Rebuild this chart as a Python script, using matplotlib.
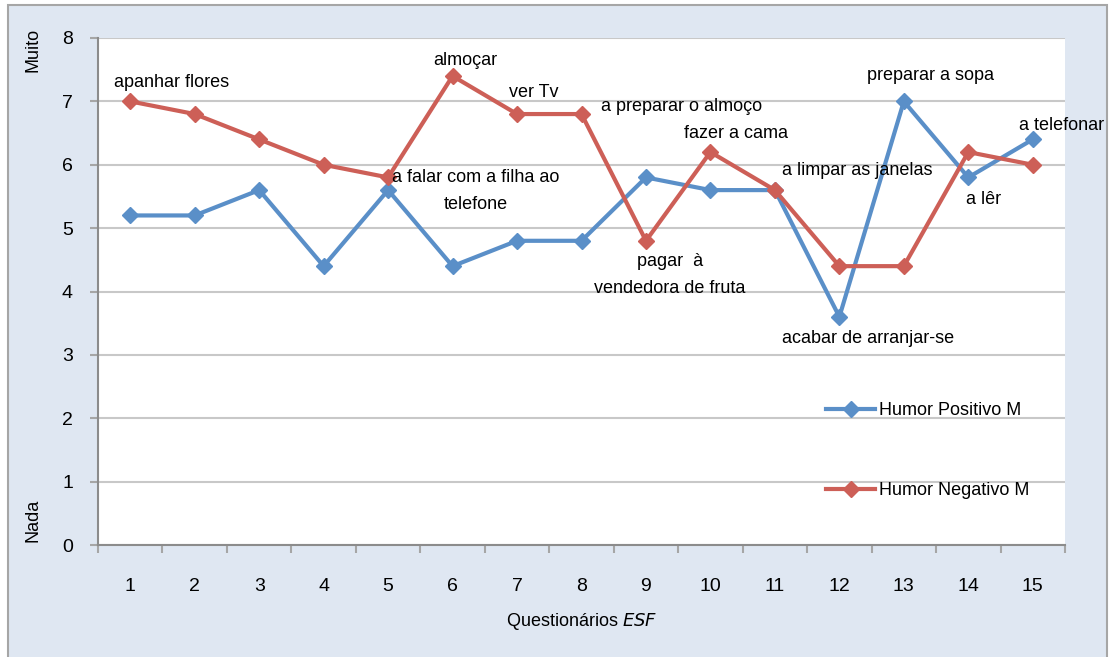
import matplotlib.pyplot as plt
from matplotlib.patches import Rectangle

plt.rcParams['font.family'] = ['Liberation Sans', 'DejaVu Sans']

# Médias por questionário
questionarios = list(range(1, 16))
humor_positivo = [5.2, 5.2, 5.6, 4.4, 5.6, 4.4, 4.8, 4.8, 5.8, 5.6, 5.6, 3.6, 7.0, 5.8, 6.4]
humor_negativo = [7.0, 6.8, 6.4, 6.0, 5.8, 7.4, 6.8, 6.8, 4.8, 6.2, 5.6, 4.4, 4.4, 6.2, 6.0]

# Actividades: (questionário, série, texto, deslocamento em px)
actividades = [
    (1, 'neg', 'apanhar flores', (41, 19)),
    (6, 'neg', 'almoçar', (13, 16)),
    (7, 'neg', 'ver Tv', (17, 22)),
    (8, 'neg', 'a preparar o almoço', (100, 8)),
    (10, 'neg', 'fazer a cama', (26, 19)),
    (5, 'pos', 'a falar com a filha ao\ntelefone', (88, -1)),
    (9, 'neg', 'pagar  à\nvendedora de fruta', (24, -34)),
    (11, 'neg', 'a limpar as janelas', (82, 20)),
    (13, 'pos', 'preparar a sopa', (27, 26)),
    (15, 'pos', 'a telefonar', (29, 14)),
    (14, 'pos', 'a lêr', (15, -22)),
    (12, 'pos', 'acabar de arranjar-se', (29, -22)),
]

azul = '#5a8fc8'
vermelho = '#cd5f57'
fs = 13

fig = plt.figure(figsize=(11.1, 6.57), dpi=100)
fig.patch.set_facecolor('white')
W, H = 1110, 657
fundo = Rectangle((8 / W, -0.05), 1099 / W, 1.05 - 5 / H,
                  transform=fig.transFigure, facecolor='#dfe7f2',
                  edgecolor='#a6a6a6', linewidth=1.5, zorder=-10)
fig.patches.append(fundo)

ax = fig.add_axes([98 / W, 112 / H, 967 / W, 507 / H])
ax.set_zorder(1)
ax.set_facecolor('white')

ax.plot(questionarios, humor_positivo, color=azul, lw=3, marker='D', ms=8.5,
        label='Humor Positivo M', zorder=3)
ax.plot(questionarios, humor_negativo, color=vermelho, lw=3, marker='D', ms=8.5,
        label='Humor Negativo M', zorder=3)

for q, serie, texto, (dx, dy) in actividades:
    y = humor_positivo[q - 1] if serie == 'pos' else humor_negativo[q - 1]
    ax.annotate(texto, (q, y), xytext=(dx, dy), textcoords='offset pixels',
                ha='center', va='center', fontsize=fs, color='black',
                linespacing=1.75, zorder=4, annotation_clip=False)

ax.set_xlim(0.5, 15.5)
ax.set_ylim(0, 8)
ax.set_yticks(range(0, 9))
ax.set_xticks(questionarios)
ax.set_xticks([i + 0.5 for i in range(0, 16)], minor=True)
ax.tick_params(axis='x', which='major', length=0, pad=24, labelsize=14)
ax.tick_params(axis='x', which='minor', length=6, width=1.5, color='#a6a6a6')
ax.tick_params(axis='y', length=6, width=1.5, color='#a6a6a6', labelsize=14, pad=12)
ax.grid(axis='y', color='#c8c8c8', lw=1.5)
ax.set_axisbelow(True)
for s in ['top', 'right']:
    ax.spines[s].set_visible(False)
for s in ['left', 'bottom']:
    ax.spines[s].set_color('#8c8c8c')
    ax.spines[s].set_linewidth(1.5)

ax.set_xlabel('Questionários $\\it{ESF}$', fontsize=fs, labelpad=11)
fig.text(33 / W, 1 - 50 / H, 'Muito', rotation=90, ha='center', va='center', fontsize=fs)
fig.text(33 / W, 1 - 520 / H, 'Nada', rotation=90, ha='center', va='center', fontsize=fs)

ax.legend(loc='upper left', bbox_to_anchor=(810 / W, 1 - 386 / H),
          bbox_transform=fig.transFigure, frameon=False, fontsize=fs,
          handlelength=2.7, handletextpad=0.2, labelspacing=3.5)

fig.savefig('out.png', dpi=100)
